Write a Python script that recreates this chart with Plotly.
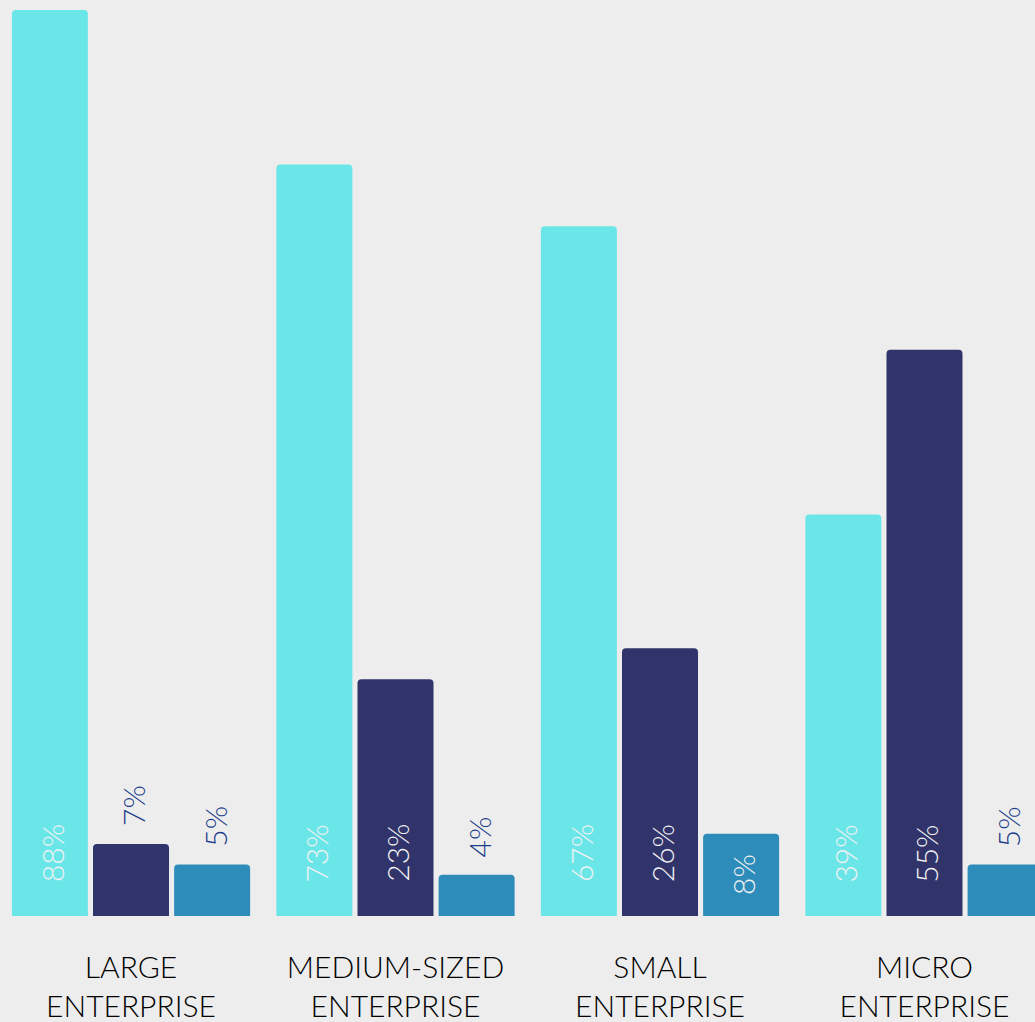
import plotly.graph_objects as go

categories = ["LARGE<br>ENTERPRISE", "MEDIUM-SIZED<br>ENTERPRISE", "SMALL<br>ENTERPRISE", "MICRO<br>ENTERPRISE"]
series_a = [88, 73, 67, 39]
series_b = [7, 23, 26, 55]
series_c = [5, 4, 8, 5]

colors = ["#6BE6E8", "#30346B", "#2E8CBA"]
series = [series_a, series_b, series_c]

BG = "#EDEDED"
FONT = "Lato"
bargap = 0.08
bargroupgap = 0.063

fig = go.Figure()
for s, c in zip(series, colors):
    fig.add_trace(go.Bar(
        x=list(range(len(categories))), y=s,
        marker=dict(color=c, line=dict(width=0), cornerradius=4),
        hoverinfo="skip", showlegend=False,
    ))

slot = (1 - bargap) / len(series)
annotations = []
for j, s in enumerate(series):
    for i, v in enumerate(s):
        xpos = i + (j - (len(series) - 1) / 2) * slot
        if v >= 8:
            annotations.append(dict(
                x=xpos, y=min(v / 2, 6.1), xref="x", yref="y",
                text=f"{v}%", textangle=-90, showarrow=False,
                xanchor="center", yanchor="middle", xshift=2,
                font=dict(family=FONT, size=30, color="#F2F2F2", weight=300),
            ))
        else:
            annotations.append(dict(
                x=xpos, y=v, xref="x", yref="y",
                text=f"{v}%", textangle=-90, showarrow=False,
                xanchor="center", yanchor="middle", xshift=2, yshift=38,
                font=dict(family=FONT, size=30, color="#1C3D8A", weight=300),
            ))

fig.update_layout(
    width=1035, height=1022,
    paper_bgcolor=BG, plot_bgcolor=BG,
    margin=dict(l=0, r=0, t=0, b=106),
    barmode="group", bargap=bargap, bargroupgap=bargroupgap,
    annotations=annotations,
    xaxis=dict(
        range=[-0.4953, 3.4178],
        tickmode="array", tickvals=list(range(len(categories))), ticktext=categories,
        showgrid=False, zeroline=False, showline=False, ticks="",
        tickfont=dict(family=FONT, size=30, color="#000000", weight=300),
        ticklabelstandoff=31,
    ),
    yaxis=dict(range=[0, 88.97], visible=False, showgrid=False, zeroline=False),
)

fig.write_html(
    "out.html",
    config={"displayModeBar": False},
    post_script="document.body.style.margin='0';document.body.style.background='#EDEDED';",
)
